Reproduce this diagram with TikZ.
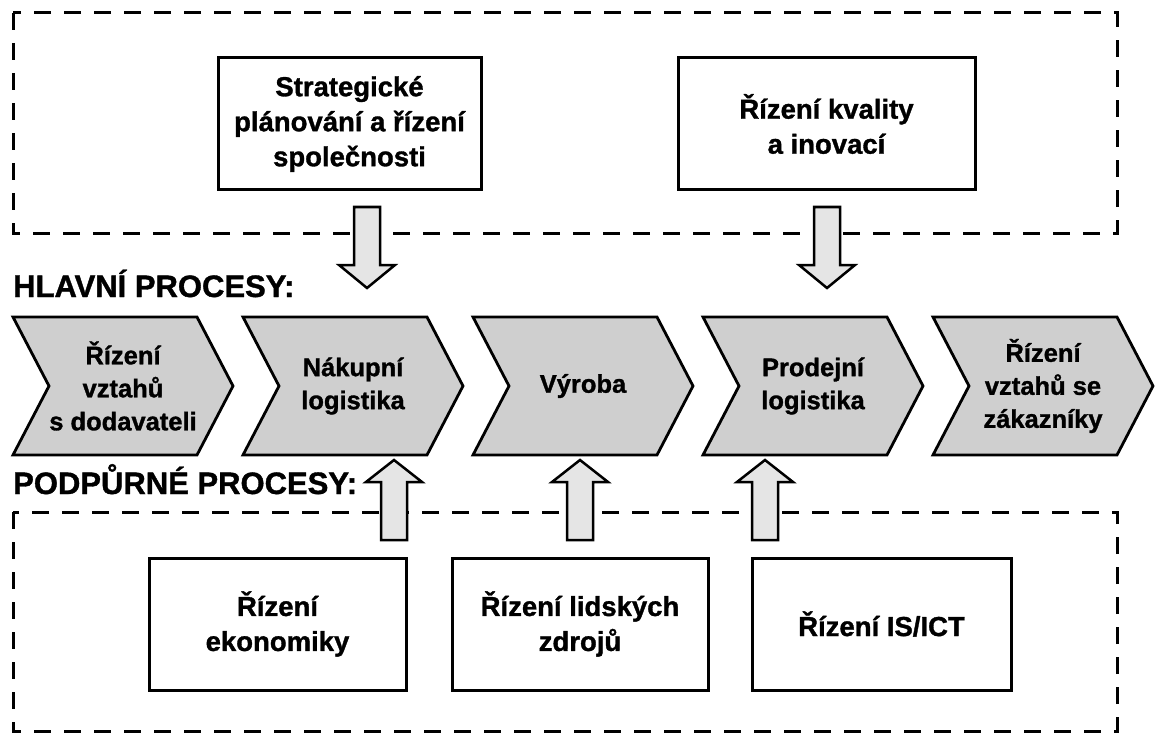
\documentclass[tikz,border=0pt]{standalone}
\usepackage{fontspec}
\setmainfont{Liberation Sans}[BoldFeatures={FakeBold=1.2}]
\usetikzlibrary{positioning}
\newcommand{\boxfont}{\bfseries\fontsize{27.5}{35}\selectfont}
\newcommand{\chevfont}{\bfseries\fontsize{25.5}{33}\selectfont}
\newcommand{\headfont}{\bfseries\fontsize{31}{36}\selectfont}
\tikzset{
  grp/.style={draw,line width=3pt,dash pattern=on 17pt off 13pt},
  procbox/.style={draw,line width=3pt,fill=white,align=center,font=\boxfont,inner sep=0pt},
  chev/.style={draw,line width=2.8pt,fill=black!19,line join=miter},
  chevtext/.style={align=center,font=\chevfont,inner sep=0pt},
  fatarr/.style={draw,line width=2.5pt,fill=black!10,line join=miter},
  heading/.style={anchor=base west,font=\headfont,inner sep=0pt}
}
\newcommand{\chevron}[3]{\draw[chev] (#1,317) -- ++(184,0) -- ++(36,69) -- ++(-36,69) -- ++(-184,0) -- ++(36,-69) -- cycle;
  \node[chevtext] (#2) at (#1+110,386) {#3};}
\newcommand{\downarr}[3]{\coordinate (#3) at (#1,#2);
  \draw[fatarr] (#3) ++(-13,0) -- ++(26,0) -- ++(0,58) -- ++(15,0) -- ++(-28,23) -- ++(-28,-23) -- ++(15,0) -- cycle;}
\newcommand{\uparr}[3]{\coordinate (#3) at (#1,#2);
  \draw[fatarr] (#3) ++(-13,0) -- ++(26,0) -- ++(0,-58) -- ++(15,0) -- ++(-28,-22) -- ++(-28,22) -- ++(15,0) -- cycle;}

\begin{document}
\begin{tikzpicture}[x=1pt,y=-1pt]
	\useasboundingbox (0,0) rectangle (1160,733);
	% skupiny
	\draw[grp] (13,13) rectangle (1117,233);
	\draw[grp] (13,512) rectangle (1117,731);
	% ridici procesy
	\node[procbox,minimum width=263pt,minimum height=132pt] (strat) at (349.5,124) {Strategické\\plánování a řízení\\společnosti};
	\node[procbox,minimum width=297pt,minimum height=132pt] (kval) at (826.5,124) {Řízení kvality\\a inovací};
	\downarr{367}{207}{a1} \downarr{827}{207}{a2}
	% hlavni procesy
	\node[heading] (hlavni) at (13,297) {HLAVNÍ PROCESY:};
	\chevron{13}{dod}{Řízení\\vztahů\\s dodavateli}
	\chevron{243}{nak}{Nákupní\\logistika}
	\chevron{473}{vyr}{Výroba}
	\chevron{703}{prod}{Prodejní\\logistika}
	\chevron{933}{zak}{Řízení\\vztahů se\\zákazníky}
	% podpurne procesy
	\node[heading] (podp) at (13,494) {PODPŮRNÉ PROCESY:};
	\uparr{394}{540}{b1} \uparr{580}{540}{b2} \uparr{765}{540}{b3}
	\node[procbox,minimum width=257pt,minimum height=132pt] (eko) at (277.5,624) {Řízení\\ekonomiky};
	\node[procbox,minimum width=256pt,minimum height=132pt] (lid) at (580,624) {Řízení lidských\\zdrojů};
	\node[procbox,minimum width=259pt,minimum height=132pt] (ict) at (881.5,624) {Řízení IS/ICT};
\end{tikzpicture}
\end{document}
